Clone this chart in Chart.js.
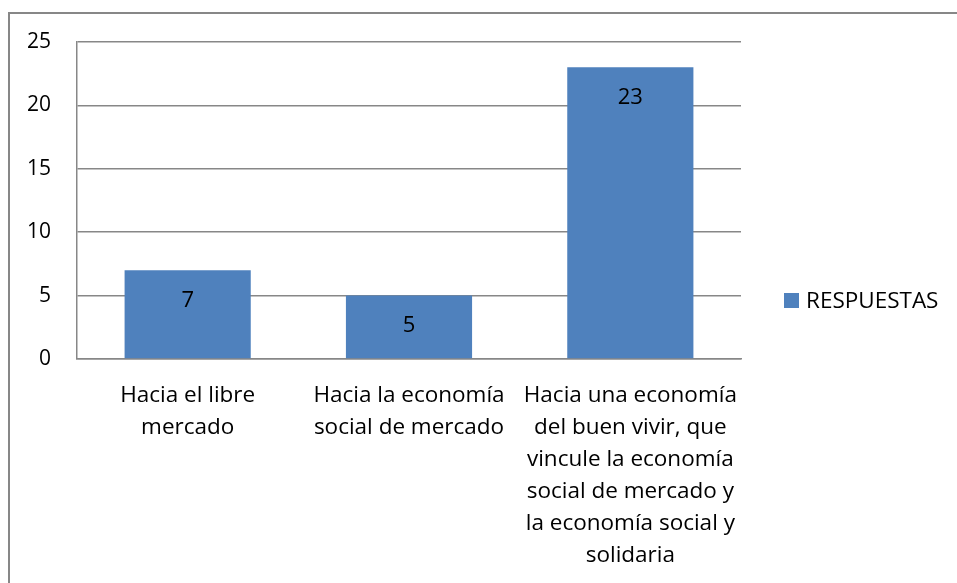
<!DOCTYPE html>
<html>
<head>
<meta charset="utf-8">
<script src="https://cdn.jsdelivr.net/npm/chart.js@4/dist/chart.umd.min.js"></script>
<style>
  html, body { margin: 0; padding: 0; background: #fff; }
  #wrap { width: 957px; height: 583px; }
</style>
</head>
<body>
<div id="wrap"><canvas id="barChart" width="957" height="583"></canvas></div>
<script>
var categories = [
    ['Hacia el libre', 'mercado'],
    ['Hacia la economía', 'social de mercado'],
    ['Hacia una economía', 'del buen vivir, que', 'vincule la economía', 'social de mercado y', 'la economía social y', 'solidaria']
];
var respuestas = [7, 5, 23];
var seriesName = 'RESPUESTAS';
var yTicks = [0, 5, 10, 15, 20, 25];

var FONT = '"Open Sans", sans-serif';
var gridColor = '#878787';

// frame, value labels and legend
var extras = {
    id: 'extras',
    beforeDraw: function(chart) {
        var ctx = chart.ctx;
        ctx.save();
        ctx.fillStyle = '#fff';
        ctx.fillRect(0, 0, chart.width, chart.height);
        ctx.strokeStyle = gridColor;
        ctx.lineWidth = 2;
        ctx.strokeRect(9, 13, chart.width + 20, chart.height + 20);
        ctx.restore();
    },
    afterDatasetsDraw: function(chart) {
        var ctx = chart.ctx;
        var meta = chart.getDatasetMeta(0);
        ctx.save();
        ctx.font = '22px ' + FONT;
        ctx.fillStyle = '#000';
        ctx.textAlign = 'center';
        ctx.textBaseline = 'middle';
        meta.data.forEach(function(bar, i) {
            ctx.fillText(String(chart.data.datasets[0].data[i]), bar.x, bar.y + 30);
        });
        // legend
        var ds = chart.data.datasets[0];
        var cy = chart.height / 2 + 9;
        var lx = chart.chartArea.right + 43;
        ctx.fillStyle = ds.backgroundColor;
        ctx.fillRect(lx, cy - 7.5, 15, 15);
        ctx.font = '22.5px ' + FONT;
        ctx.fillStyle = '#000';
        ctx.textAlign = 'left';
        ctx.fillText(ds.label, lx + 22, cy + 1);
        ctx.restore();
    }
};

new Chart(document.getElementById('barChart').getContext('2d'), {
    type: 'bar',
    data: {
        labels: categories,
        datasets: [
            {
                label: seriesName,
                data: respuestas,
                backgroundColor: '#4F81BD',
                borderWidth: 0,
                barPercentage: 0.57,
                categoryPercentage: 1
            }
        ]
    },
    options: {
        responsive: false,
        animation: false,
        events: [],
        layout: {
            padding: { top: 42, right: 216, bottom: 0, left: 0 }
        },
        plugins: {
            legend: { display: false },
            tooltip: { enabled: false }
        },
        scales: {
            x: {
                grid: { display: false, drawTicks: false },
                border: { display: true, color: gridColor, width: 1.5 },
                ticks: {
                    color: '#000',
                    padding: 21,
                    maxRotation: 0,
                    autoSkip: false,
                    font: { family: FONT, size: 22.5, lineHeight: 1.42 }
                },
                afterFit: function(scale) { scale.height = 224; }
            },
            y: {
                min: 0,
                max: 25,
                grid: { color: gridColor, lineWidth: 1.5, drawTicks: false },
                border: { display: true, color: gridColor, width: 1.5 },
                afterBuildTicks: function(scale) {
                    scale.ticks = yTicks.map(function(v) { return { value: v }; });
                },
                ticks: {
                    color: '#000',
                    padding: 26,
                    font: { family: FONT, size: 21 }
                },
                afterFit: function(scale) { scale.width = 77; }
            }
        }
    },
    plugins: [extras]
});
</script>
</body>
</html>
